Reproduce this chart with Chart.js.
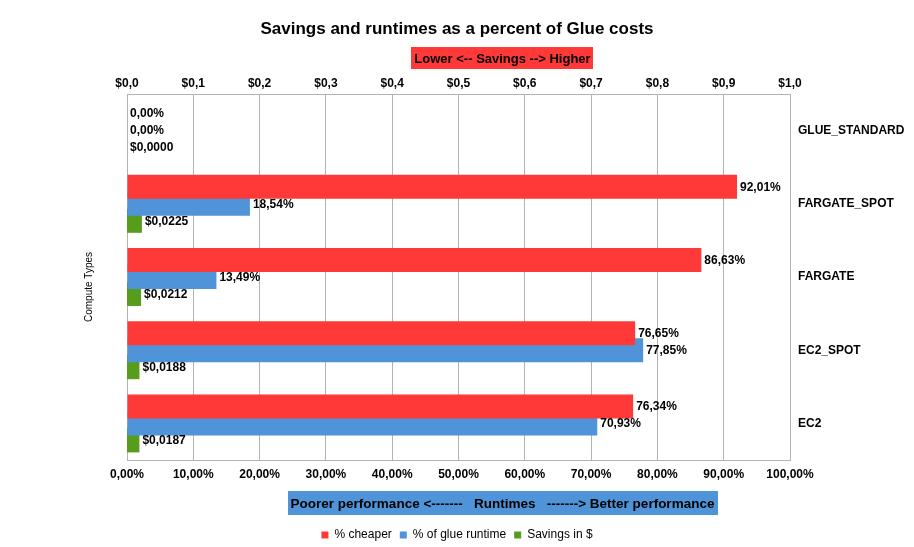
<!DOCTYPE html>
<html><head><meta charset="utf-8">
<script src="https://cdn.jsdelivr.net/npm/chart.js@4"></script>
<style>html,body{margin:0;padding:0;background:#fff}#wrap{width:914px;height:547px}</style>
</head><body><div id="wrap"><canvas id="c" width="914" height="547"></canvas></div>
<script>
// ---- data ----
const categories = ['GLUE_STANDARD', 'FARGATE_SPOT', 'FARGATE', 'EC2_SPOT', 'EC2'];
const pctCheaper = [0, 92.01, 86.63, 76.65, 76.34];
const pctGlueRuntime = [0, 18.54, 13.49, 77.85, 70.93];
const savingsDollars = [0, 0.0225, 0.0212, 0.0188, 0.0187];
const seriesNames = ['% cheaper', '% of glue runtime', 'Savings in $'];
const chartTitle = 'Savings and runtimes as a percent of Glue costs';
const topAxisTitle = 'Lower <-- Savings --> Higher';
const bottomAxisTitle = 'Poorer performance <-------   Runtimes   -------> Better performance';
const yAxisTitle = 'Compute Types';

// ---- styling ----
const FONT = '"Liberation Sans", Arial, sans-serif';
const RED = '#ff3838', BLUE = '#4f94d8', GREEN = '#579d1c', GRID = '#b3b3b3';
const PAD_BOTTOM = -4;

const fmtPct = v => v.toFixed(2).replace('.', ',') + '%';
const fmtDollarTick = v => '$' + Number(v).toFixed(1).replace('.', ',');
const fmtDollar = v => '$' + v.toFixed(4).replace('.', ',');
const labelFormats = [fmtPct, fmtPct, fmtDollar];

const valueLabels = {
  id: 'valueLabels',
  afterDatasetsDraw(chart) {
    const ctx = chart.ctx;
    ctx.save();
    ctx.font = 'bold 12px ' + FONT;
    ctx.fillStyle = '#000';
    ctx.textAlign = 'left';
    ctx.textBaseline = 'middle';
    chart.data.datasets.forEach((ds, di) => {
      const meta = chart.getDatasetMeta(di);
      meta.data.forEach((bar, i) => {
        ctx.fillText(labelFormats[di](ds.data[i]), bar.x + 3, bar.y + 0.5);
      });
    });
    ctx.restore();
  }
};

const boxTitles = {
  id: 'boxTitles',
  afterDraw(chart) {
    const ctx = chart.ctx, ca = chart.chartArea;
    const cx = (ca.left + ca.right) / 2 + 44;
    ctx.save();
    ctx.textAlign = 'center';
    ctx.textBaseline = 'middle';
    const box = (txt, cy, color, size, h) => {
      ctx.font = 'bold ' + size + 'px ' + FONT;
      const w = ctx.measureText(txt).width + 6;
      ctx.fillStyle = color;
      ctx.fillRect(Math.round(cx - w / 2), Math.round(cy - h / 2), Math.round(w), h);
      ctx.fillStyle = '#000';
      ctx.fillText(txt, cx, cy + 1);
    };
    box(topAxisTitle, ca.top - 36, RED, 13, 22);
    box(bottomAxisTitle, ca.bottom + 43, BLUE, 13.5, 24);
    // y axis title
    ctx.font = '10px ' + FONT;
    ctx.fillStyle = '#000';
    ctx.translate(ca.left - 38, (ca.top + ca.bottom) / 2 + 10);
    ctx.rotate(-Math.PI / 2);
    ctx.fillText(yAxisTitle, 0, 0);
    ctx.restore();
  }
};

const barOpts = { borderWidth: 0, categoryPercentage: 0.697, barPercentage: 1.41 };

new Chart(document.getElementById('c'), {
  type: 'bar',
  data: {
    labels: categories,
    datasets: [
      Object.assign({ label: seriesNames[0], data: pctCheaper, backgroundColor: RED, xAxisID: 'x', yAxisID: 'y' }, barOpts),
      Object.assign({ label: seriesNames[1], data: pctGlueRuntime, backgroundColor: BLUE, xAxisID: 'x', yAxisID: 'y' }, barOpts),
      Object.assign({ label: seriesNames[2], data: savingsDollars, backgroundColor: GREEN, xAxisID: 'x2', yAxisID: 'y' }, barOpts)
    ]
  },
  options: {
    indexAxis: 'y',
    responsive: false,
    animation: false,
    devicePixelRatio: 1,
    layout: { padding: { top: 0, left: 0, right: 0, bottom: PAD_BOTTOM } },
    plugins: {
      title: {
        display: true, text: chartTitle, color: '#000',
        font: { family: FONT, size: 17, weight: 'bold' },
        padding: { top: 19, bottom: 10 }
      },
      legend: {
        position: 'bottom',
        labels: { color: '#000', font: { family: FONT, size: 12 }, boxWidth: 7, boxHeight: 7, padding: 8 }
      },
      tooltip: { enabled: false }
    },
    scales: {
      x: {
        type: 'linear', position: 'bottom', min: 0, max: 100,
        ticks: { stepSize: 10, callback: v => fmtPct(v), color: '#000', font: { family: FONT, size: 12, weight: 'bold' }, padding: 7, maxRotation: 0, autoSkip: false },
        grid: { color: GRID, drawTicks: false, tickLength: 0 },
        border: { color: GRID },
        afterFit: s => { s.height = (547 - 460) - s.chart.legend.height - PAD_BOTTOM; }
      },
      x2: {
        type: 'linear', position: 'top', min: 0, max: 1,
        ticks: { stepSize: 0.1, callback: v => fmtDollarTick(v), color: '#000', font: { family: FONT, size: 12, weight: 'bold' }, padding: 3, maxRotation: 0, autoSkip: false },
        grid: { display: false, drawTicks: false, tickLength: 0 },
        border: { color: GRID },
        afterFit: s => { s.height = 94 - s.chart.titleBlock.height; }
      },
      y: {
        type: 'category', position: 'right', offset: true,
        ticks: { color: '#000', font: { family: FONT, size: 12, weight: 'bold' }, padding: 8, crossAlign: 'near' },
        grid: { display: false, drawTicks: false, tickLength: 0 },
        border: { color: GRID },
        afterFit: s => { s.width = 914 - 790; }
      },
      yLeft: {
        type: 'category', position: 'left', offset: true,
        ticks: { display: false },
        grid: { display: false, drawTicks: false, tickLength: 0 },
        border: { display: false },
        afterFit: s => { s.width = 127; }
      }
    }
  },
  plugins: [valueLabels, boxTitles]
});
</script>
</body></html>
